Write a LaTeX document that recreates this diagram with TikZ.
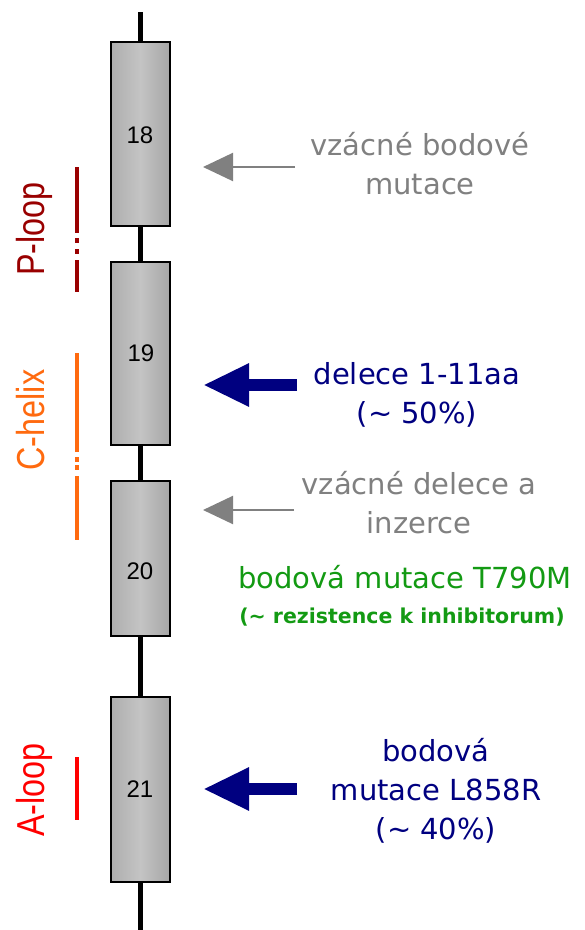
\documentclass[tikz,border=0pt]{standalone}
\usepackage{fontspec}
\setmainfont{DejaVu Sans}
\newfontfamily\labelfont{Liberation Sans}
\usetikzlibrary{arrows.meta}

\definecolor{navyblue}{HTML}{000080}
\definecolor{midgray}{HTML}{808080}
\definecolor{darkgreen}{HTML}{139A13}
\definecolor{ploopred}{HTML}{990000}
\definecolor{helixorange}{HTML}{FF6A0F}
\definecolor{aloopred}{HTML}{FF0000}
\definecolor{exonleft}{HTML}{AEAEAE}
\definecolor{exonright}{HTML}{A6A6A6}
\definecolor{exonmid}{HTML}{C4C4C4}

\tikzset{
  exon/.style={draw=black, line width=2pt, left color=exonleft, right color=exonright,
               middle color=exonmid, minimum width=59pt, inner sep=0pt},
  exonnum/.style={font=\labelfont\fontsize{24}{26}\selectfont, inner sep=0pt},
  spine/.style={line width=4.5pt, black},
  regionbar/.style={line width=4.5pt},
  domainlabel/.style={rotate=90, anchor=base, inner sep=0pt, font=\labelfont\fontsize{39}{40}\selectfont},
  minorarrow/.style={draw=midgray, line width=2pt, -{Triangle[length=30pt,width=28pt]}},
  majorarrow/.style={draw=navyblue, line width=12pt, -{Triangle[length=46pt,width=40pt]}},
  note/.style={align=center, inner sep=0pt, font=\fontsize{29}{39}\selectfont},
  smallnote/.style={inner sep=0pt, font=\bfseries\fontsize{20.5}{24}\selectfont},
}

\begin{document}
\begin{tikzpicture}[x=1pt, y=-1pt]
  \useasboundingbox (0,0) rectangle (585,930);

  % exons 18-21
  \node[exon, minimum height=184pt] (e18) at (140.5,134) {};
  \node[exon, minimum height=183pt] (e19) at (140.5,353.5) {};
  \node[exon, minimum height=155pt] (e20) at (140.5,558.5) {};
  \node[exon, minimum height=185pt] (e21) at (140.5,789.5) {};

  % introns / flanking sequence
  \coordinate (top) at (140.5,12);
  \coordinate (bottom) at (140.5,930);
  \draw[spine] (top) -- (e18.north);
  \draw[spine] (e18.south) -- (e19.north);
  \draw[spine] (e19.south) -- (e20.north);
  \draw[spine] (e20.south) -- (e21.north);
  \draw[spine] (e21.south) -- (bottom);

  % exon numbers
  \node[exonnum] (n18) at (140,135) {18};
  \node[exonnum] (n19) at (141,353) {19};
  \node[exonnum] (n20) at (140,571) {20};
  \node[exonnum] (n21) at (140,789) {21};

  % P-loop
  \draw[regionbar, ploopred] (77,167) -- (77,233);
  \draw[regionbar, ploopred] (77,238) -- (77,243);
  \draw[regionbar, ploopred] (77,249) -- (77,254);
  \draw[regionbar, ploopred] (77,260) -- (77,292);
  \node[domainlabel, text=ploopred] (ploop) at (45,229) {\scalebox{0.83}[1]{P-loop}};

  % C-helix
  \draw[regionbar, helixorange] (77,353) -- (77,452);
  \draw[regionbar, helixorange] (77,457) -- (77,462);
  \draw[regionbar, helixorange] (77,465) -- (77,470);
  \draw[regionbar, helixorange] (77,476) -- (77,540);
  \node[domainlabel, text=helixorange] (chelix) at (45,420) {\scalebox{0.83}[1]{C-helix}};

  % A-loop
  \draw[regionbar, aloopred] (77,757) -- (77,820);
  \node[domainlabel, text=aloopred] (aloop) at (44,790) {\scalebox{0.83}[1]{A-loop}};

  % mutation annotations
  \coordinate (m1s) at (295,167);  \coordinate (m1t) at (203,167);
  \draw[minorarrow] (m1s) -- (m1t);
  \node[note, text=midgray] (rare1) at (420,164) {vzácné bodové\\mutace};

  \coordinate (m2s) at (297,385);  \coordinate (m2t) at (203,385);
  \draw[majorarrow] (m2s) -- (m2t);
  \node[note, text=navyblue] (del) at (417,395) {delece 1-11aa\\(\textasciitilde{} 50\%)};

  \coordinate (m3s) at (294,510);  \coordinate (m3t) at (203,510);
  \draw[minorarrow] (m3s) -- (m3t);
  \node[note, text=midgray] (rare2) at (419,503) {vzácné delece a\\inzerce};

  \node[note, text=darkgreen] (t790m) at (405,577) {bodová mutace T790M};
  \node[smallnote, text=darkgreen] (resist) at (402,617) {(\textasciitilde{} rezistence k inhibitorum)};

  \coordinate (m4s) at (297,789);  \coordinate (m4t) at (203,789);
  \draw[majorarrow] (m4s) -- (m4t);
  \node[note, text=navyblue] (l858r) at (436,791) {bodová\\mutace L858R\\(\textasciitilde{} 40\%)};
\end{tikzpicture}
\end{document}
